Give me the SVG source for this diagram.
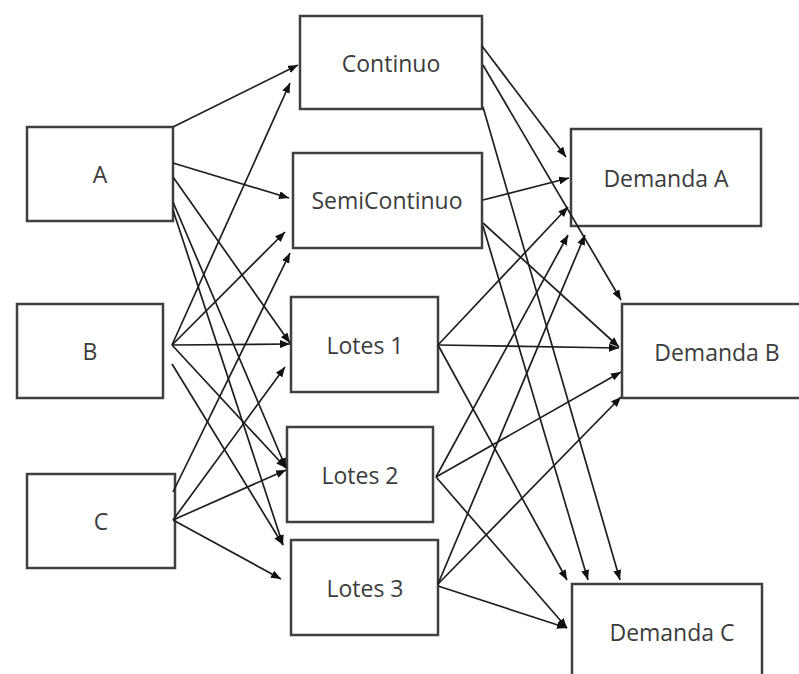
<svg xmlns="http://www.w3.org/2000/svg" width="799" height="674" viewBox="0 0 799 674">
<style>
.box{fill:#ffffff;stroke:#404040;stroke-width:2.5}
.lbl{font-family:"Open Sans","Noto Sans",sans-serif;font-size:23px;fill:#3c3c3c;text-anchor:middle;dominant-baseline:central}
.edge{fill:none;stroke:#1e1e1e;stroke-width:1.7;marker-end:url(#ah)}
</style>
<defs>
<marker id="ah" markerUnits="userSpaceOnUse" markerWidth="10" markerHeight="8" refX="10" refY="4" orient="auto">
<path d="M0,0 L10,4 L0,8 z" fill="#111"/>
</marker>
</defs>
<rect width="799" height="674" fill="#ffffff"/>
<g id="node-A"><rect class="box" x="27" y="127" width="146" height="94"/><text class="lbl" x="100" y="174">A</text></g>
<g id="node-B"><rect class="box" x="17" y="304" width="146" height="94"/><text class="lbl" x="90" y="351">B</text></g>
<g id="node-C"><rect class="box" x="27" y="474" width="148" height="94"/><text class="lbl" x="101" y="521">C</text></g>
<g id="node-continuo"><rect class="box" x="300" y="16" width="182" height="93"/><text class="lbl" x="391" y="63">Continuo</text></g>
<g id="node-semicontinuo"><rect class="box" x="293" y="153" width="189" height="95"/><text class="lbl" x="387" y="200">SemiContinuo</text></g>
<g id="node-lotes1"><rect class="box" x="291" y="297" width="147" height="95"/><text class="lbl" x="365" y="345">Lotes 1</text></g>
<g id="node-lotes2"><rect class="box" x="287" y="427" width="146" height="95"/><text class="lbl" x="360" y="475">Lotes 2</text></g>
<g id="node-lotes3"><rect class="box" x="291" y="540" width="147" height="95"/><text class="lbl" x="365" y="588">Lotes 3</text></g>
<g id="node-demandaA"><rect class="box" x="571" y="129" width="190" height="97"/><text class="lbl" x="666" y="178">Demanda A</text></g>
<g id="node-demandaB"><rect class="box" x="622" y="304" width="200" height="94"/><text class="lbl" x="717" y="352">Demanda B</text></g>
<g id="node-demandaC"><rect class="box" x="572" y="584" width="190" height="100"/><text class="lbl" x="672" y="632">Demanda C</text></g>
<g id="connectors">
<line class="edge" x1="173" y1="127" x2="298" y2="65"/>
<line class="edge" x1="173" y1="163" x2="289" y2="198"/>
<line class="edge" x1="173" y1="177" x2="290" y2="343"/>
<line class="edge" x1="173" y1="202" x2="286" y2="468"/>
<line class="edge" x1="173" y1="210" x2="283" y2="545"/>
<line class="edge" x1="172" y1="345" x2="290" y2="83"/>
<line class="edge" x1="172" y1="345" x2="285" y2="232"/>
<line class="edge" x1="172" y1="345" x2="290" y2="344"/>
<line class="edge" x1="172" y1="345" x2="286" y2="468"/>
<line class="edge" x1="172" y1="364" x2="283" y2="545"/>
<line class="edge" x1="173" y1="492" x2="290" y2="253"/>
<line class="edge" x1="173" y1="520" x2="285" y2="367"/>
<line class="edge" x1="173" y1="520" x2="286" y2="470"/>
<line class="edge" x1="173" y1="520" x2="281" y2="579"/>
<line class="edge" x1="482" y1="46" x2="566" y2="157"/>
<line class="edge" x1="483" y1="65" x2="621" y2="300"/>
<line class="edge" x1="483" y1="107" x2="620" y2="580"/>
<line class="edge" x1="483" y1="200" x2="569" y2="178"/>
<line class="edge" x1="483" y1="223" x2="619" y2="347"/>
<line class="edge" x1="483" y1="226" x2="588" y2="580"/>
<line class="edge" x1="438" y1="345" x2="568" y2="207"/>
<line class="edge" x1="438" y1="345" x2="619" y2="348"/>
<line class="edge" x1="438" y1="345" x2="567" y2="580"/>
<line class="edge" x1="436" y1="477" x2="568" y2="235"/>
<line class="edge" x1="436" y1="477" x2="621" y2="372"/>
<line class="edge" x1="436" y1="477" x2="567" y2="628"/>
<line class="edge" x1="438" y1="584" x2="585" y2="235"/>
<line class="edge" x1="438" y1="584" x2="621" y2="397"/>
<line class="edge" x1="438" y1="586" x2="567" y2="628"/>
</g>
</svg>
